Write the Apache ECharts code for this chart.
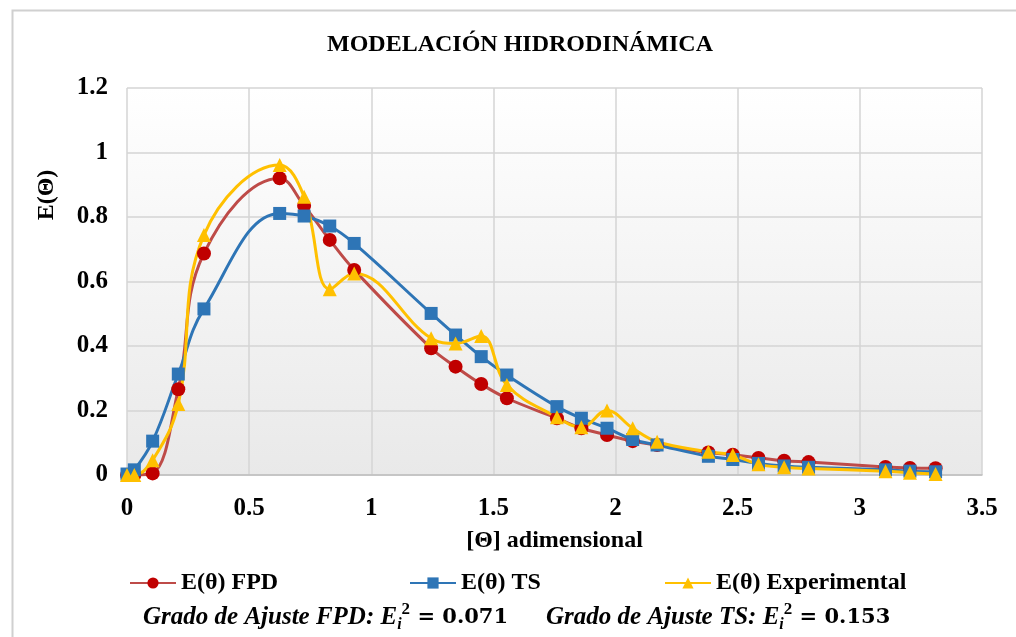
<!DOCTYPE html>
<html>
<head>
<meta charset="utf-8">
<script src="https://cdn.jsdelivr.net/npm/echarts@6/dist/echarts.min.js"></script>
<style>
html,body{margin:0;padding:0;background:#fff;}
#main{width:1016px;height:637px;}
</style>
</head>
<body>
<div id="main"></div>
<script>
// theta (adimensional) sample positions
var theta = [0, 0.03, 0.105, 0.21, 0.315, 0.625, 0.725, 0.83, 0.93, 1.245, 1.345, 1.45, 1.555,
	1.76, 1.86, 1.965, 2.07, 2.17, 2.38, 2.48, 2.585, 2.69, 2.79, 3.105, 3.205, 3.31];
var eFPD = [0, 0, 0.005, 0.266, 0.687, 0.92, 0.835, 0.729, 0.636, 0.393, 0.336, 0.282, 0.238,
	0.176, 0.145, 0.124, 0.105, 0.093, 0.07, 0.063, 0.053, 0.044, 0.04, 0.025, 0.022, 0.021];
var eTS = [0.003, 0.016, 0.105, 0.313, 0.515, 0.811, 0.803, 0.772, 0.718, 0.501, 0.434, 0.367, 0.31,
	0.212, 0.176, 0.145, 0.11, 0.093, 0.058, 0.048, 0.036, 0.028, 0.024, 0.016, 0.012, 0.01];
var eExp = [0, 0, 0.046, 0.22, 0.744, 0.961, 0.863, 0.576, 0.625, 0.424, 0.408, 0.431, 0.279,
	0.179, 0.148, 0.2, 0.145, 0.103, 0.072, 0.062, 0.033, 0.024, 0.02, 0.012, 0.007, 0.003];
var names = ['E(θ) FPD', 'E(θ) TS', 'E(θ) Experimental'];

var serif = '"Liberation Serif", "DejaVu Serif", serif';

function pairs(ys){
	var out = [];
	for (var i = 0; i < theta.length; i++) out.push([theta[i], ys[i]]);
	return out;
}

function lineSeries(name, ys, lineColor, markColor, symbol, size){
	return {
		name: name,
		type: 'line',
		smooth: 0.4,
		symbol: symbol,
		symbolSize: size,
		lineStyle: {color: lineColor, width: 3},
		itemStyle: {color: markColor},
		data: pairs(ys)
	};
}

function bottomRich(){
	var base = {fontFamily: serif, fontWeight: 'bold', fontSize: 25, color: '#000'};
	return {
		a: Object.assign({}, base, {fontStyle: 'italic'}),
		m: Object.assign({}, base, {fontStyle: 'italic'}),
		s: Object.assign({}, base, {fontStyle: 'italic', fontSize: 16, padding: [14, 0, 0, 0]}),
		p: Object.assign({}, base, {fontSize: 17, padding: [0, 0, 16, 0]}),
		n: Object.assign({}, base, {fontFamily: '"DejaVu Serif", serif', fontSize: 21})
	};
}

var myChart = echarts.init(document.getElementById('main'));

var legendText = {fontFamily: serif, fontWeight: 'bold', fontSize: 24, color: '#000'};
function legendAt(left, name){
	return {
		left: left, top: 566, data: [name],
		itemWidth: 46, itemHeight: 14, itemGap: 4,
		textStyle: legendText
	};
}

var option = {
	backgroundColor: '#fff',
	animation: false,
	title: {
		text: 'MODELACIÓN HIDRODINÁMICA',
		left: 322, top: 28,
		textStyle: {fontFamily: serif, fontWeight: 'bold', fontSize: 24, color: '#000'}
	},
	legend: [
		legendAt(124, names[0]),
		legendAt(404, names[1]),
		legendAt(659, names[2])
	],
	grid: {
		left: 127, right: 34, top: 88, bottom: 162,
		show: true, borderWidth: 0,
		backgroundColor: new echarts.graphic.LinearGradient(0, 0, 0, 1, [
			{offset: 0, color: '#ffffff'},
			{offset: 1, color: '#e9e9e9'}
		])
	},
	xAxis: {
		type: 'value', min: 0, max: 3.5, interval: 0.5,
		name: '[Θ] adimensional', nameLocation: 'middle', nameGap: 54,
		nameTextStyle: {fontFamily: serif, fontWeight: 'bold', fontSize: 24, color: '#000'},
		axisLine: {show: true, lineStyle: {color: '#bfbfbf', width: 1.5}},
		axisTick: {show: false},
		axisLabel: {margin: 21, fontFamily: serif, fontWeight: 'bold', fontSize: 25, color: '#000'},
		splitLine: {show: true, lineStyle: {color: '#d4d4d4', width: 1.5}}
	},
	yAxis: {
		type: 'value', min: 0, max: 1.2, interval: 0.2,
		axisLine: {show: false},
		axisTick: {show: false},
		axisLabel: {margin: 19, fontFamily: serif, fontWeight: 'bold', fontSize: 25, color: '#000'},
		splitLine: {show: true, lineStyle: {color: '#d4d4d4', width: 1.5}}
	},
	graphic: [
		{
			type: 'rect', left: 10, top: 8, silent: true, z: -10,
			shape: {width: 1030, height: 660},
			style: {fill: 'none', stroke: '#d0d0d0', lineWidth: 2}
		},
		{
			type: 'text', x: 47, y: 195, rotation: Math.PI / 2,
			style: {
				text: 'E(Θ)', align: 'center', verticalAlign: 'middle',
				fontFamily: serif, fontWeight: 'bold', fontSize: 24, fill: '#000'
			}
		},
		{
			type: 'text', left: 143, top: 601,
			style: {
				text: '{a|Grado de Ajuste FPD: }{m|E}{s|i}{p|2}{n| = 0.071}',
				rich: bottomRich()
			}
		},
		{
			type: 'text', left: 546, top: 601,
			style: {
				text: '{a|Grado de Ajuste TS: }{m|E}{s|i}{p|2}{n| = 0.153}',
				rich: bottomRich()
			}
		}
	],
	series: [
		lineSeries(names[0], eFPD, '#be4b48', '#c00000', 'circle', 14),
		lineSeries(names[1], eTS, '#2e75b6', '#2e75b6', 'rect', 13),
		lineSeries(names[2], eExp, '#ffc000', '#ffc000', 'triangle', 14)
	]
};

myChart.setOption(option);
</script>
</body>
</html>
